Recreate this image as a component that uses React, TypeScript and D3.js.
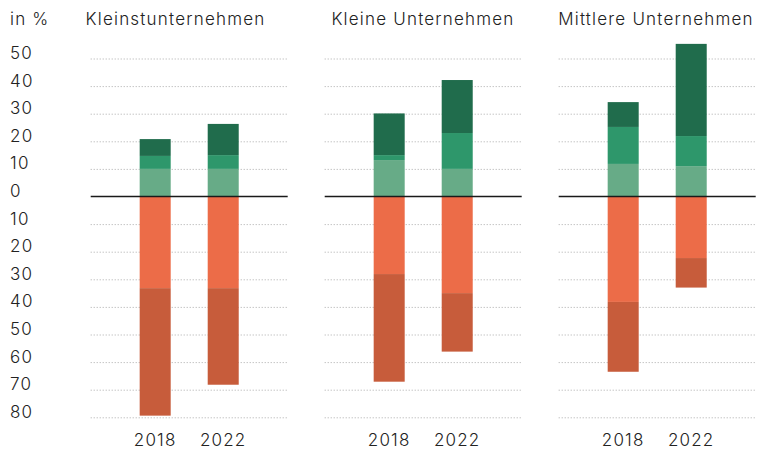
import React from "react";
import * as d3 from "d3";

const categories = ["Kleinstunternehmen", "Kleine Unternehmen", "Mittlere Unternehmen"];
const years = ["2018", "2022"];
// positive (green) stacked segments, per category, per year
const posLight = [[10, 10], [13.2, 10], [11.8, 11]];
const posMid = [[4.7, 5], [1.8, 13], [13.4, 10.9]];
const posDark = [[6.1, 11.3], [15.1, 19.2], [9, 33.4]];
// negative (orange) stacked segments
const negLight = [[33.2, 33.2], [28.1, 35], [38.2, 22.3]];
const negDark = [[46.2, 35], [39, 21.2], [25.3, 10.7]];
const tickValues = [50, 40, 30, 20, 10, 0, -10, -20, -30, -40, -50, -60, -70, -80];

const W = 758;
const H = 449;
const FONT = "Inter, 'Noto Sans', sans-serif";
const posColors = ["#67ab87", "#2e976b", "#206c4c"];
const negColors = ["#ec6c48", "#c75c3b"];
const textStyle = { letterSpacing: "1.2px", fontWeight: 300 } as React.CSSProperties;

export default function App() {
  const y = d3.scaleLinear().domain([-80, 50]).range([417.3, 58.5]);
  const panelX = d3.scaleBand<number>().domain([0, 1, 2]).range([90.7, 90.7 + 234 * 3]).paddingInner(0).paddingOuter(0);
  const panelW = 197;
  const titleX = [175.5, 423, 656];

  return (
    <div style={{ position: "absolute", left: 0, top: 0 }}>
      <svg width={W} height={H} style={{ display: "block" }} fontFamily={FONT}>
        <rect width={W} height={H} fill="#fff" />
        <text x={10} y={25} fontSize={17} fill="#222" style={textStyle}>in %</text>
        {tickValues.map((t) => (
          <text key={t} x={10} y={y(t) + 0.5} fontSize={17} fill="#222" style={textStyle}>
            {Math.abs(t)}
          </text>
        ))}
        {categories.map((cat, ci) => {
          const x0 = panelX(ci)!;
          const xb = d3.scaleBand().domain(years).range([x0, x0 + panelW]).paddingInner(0.544).paddingOuter(0.72);
          return (
            <g key={cat}>
              <text x={titleX[ci]} y={25} fontSize={17} textAnchor="middle" fill="#222" style={textStyle}>{cat}</text>
              {tickValues.filter((t) => t !== 0).map((t) => (
                <line key={t} x1={x0} x2={x0 + panelW} y1={y(t) + 0.5} y2={y(t) + 0.5}
                  stroke="#aaa" strokeWidth={1} strokeDasharray="1,2" />
              ))}
              {years.map((yr, yi) => {
                const segsP = [posLight[ci][yi], posMid[ci][yi], posDark[ci][yi]];
                const segsN = [negLight[ci][yi], negDark[ci][yi]];
                let acc = 0;
                const rectsP = segsP.map((v, k) => {
                  const a = acc; acc += v;
                  return <rect key={"p" + k} x={xb(yr)} width={xb.bandwidth()} y={y(acc)} height={y(a) - y(acc)} fill={posColors[k]} />;
                });
                let accN = 0;
                const rectsN = segsN.map((v, k) => {
                  const a = accN; accN -= v;
                  return <rect key={"n" + k} x={xb(yr)} width={xb.bandwidth()} y={y(a)} height={y(accN) - y(a)} fill={negColors[k]} />;
                });
                return (
                  <g key={yr}>
                    {rectsP}
                    {rectsN}
                    <text x={xb(yr)! + xb.bandwidth() / 2} y={446} fontSize={17} textAnchor="middle" fill="#222" style={textStyle}>{yr}</text>
                  </g>
                );
              })}
              <line x1={x0} x2={x0 + panelW} y1={y(0)} y2={y(0)} stroke="#1a1a1a" strokeWidth={1.5} />
            </g>
          );
        })}
      </svg>
    </div>
  );
}
